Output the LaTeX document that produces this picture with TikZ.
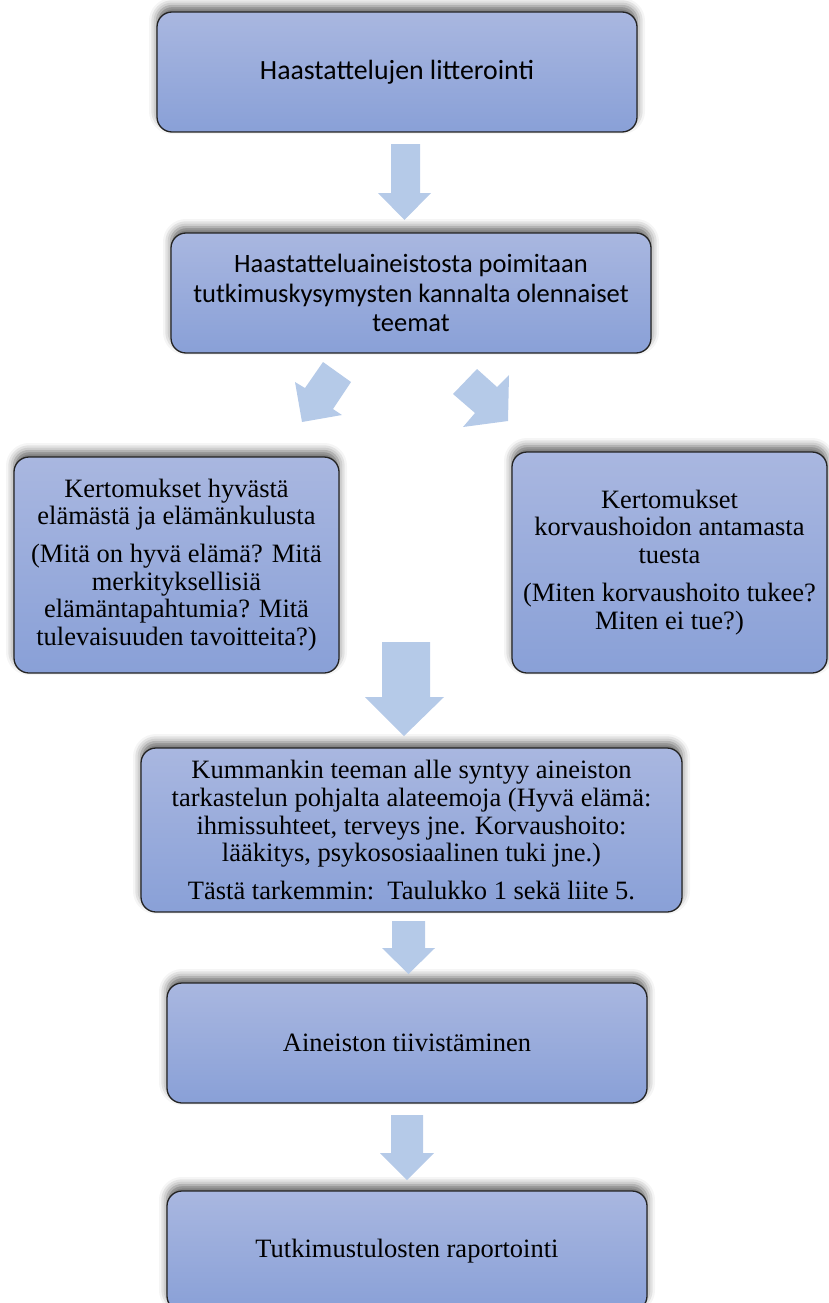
\documentclass[tikz,border=0pt]{standalone}
\usepackage{fontspec}
\setmainfont{Liberation Serif}
\newfontfamily\calibrifont{Carlito}
\usetikzlibrary{shadows.blur}
\definecolor{boxtop}{RGB}{169,183,224}
\definecolor{boxbot}{RGB}{137,160,215}
\definecolor{arrowfill}{RGB}{181,202,232}
\definecolor{boxline}{RGB}{35,35,35}
\begin{document}
\begin{tikzpicture}[x=1pt,y=-1pt,
  stage/.style={draw=boxline, line width=1.3pt, rounded corners=15pt,
    top color=boxtop, bottom color=boxbot, inner sep=0pt, align=center, text=black,
    blur shadow={shadow xshift=0pt, shadow yshift=6pt, shadow blur radius=8pt, shadow opacity=60}},
  sanstext/.style={font=\calibrifont\fontsize{26.5}{29.5}\selectfont},
  seriftext/.style={font=\fontsize{26.5}{27.6}\selectfont},
  blockarrow/.style={fill=arrowfill, draw=none}]
\useasboundingbox (0,0) rectangle (828,1303);

% boxes
\node[stage, font=\calibrifont\fontsize{27.8}{30}\selectfont, minimum width=480pt, minimum height=120pt] (b1) at (397,72)
  {Haastattelujen litterointi};
\node[stage, sanstext, minimum width=480pt, minimum height=120pt] (b2) at (411,293)
  {Haastatteluaineistosta poimitaan\\tutkimuskysymysten kannalta olennaiset\\teemat};
\node[stage, seriftext, minimum width=325pt, minimum height=216pt] (b3) at (176.5,565)
  {Kertomukset hyvästä\\elämästä ja elämänkulusta\\[10pt](Mitä on hyvä elämä? Mitä\\merkityksellisiä\\elämäntapahtumia? Mitä\\tulevaisuuden tavoitteita?)};
\node[stage, seriftext, minimum width=315pt, minimum height=221pt] (b4) at (669.5,562.5)
  {Kertomukset\\korvaushoidon antamasta\\tuesta\\[11pt](Miten korvaushoito tukee?\\Miten ei tue?)};
\node[stage, seriftext, minimum width=541pt, minimum height=164pt] (b5) at (411.5,830)
  {Kummankin teeman alle syntyy aineiston\\tarkastelun pohjalta alateemoja (Hyvä elämä:\\ihmissuhteet, terveys jne. Korvaushoito:\\lääkitys, psykososiaalinen tuki jne.)\\[10pt]Tästä tarkemmin:\ \ Taulukko 1 sekä liite 5.};
\node[stage, seriftext, minimum width=480pt, minimum height=120pt] (b6) at (407,1043)
  {Aineiston tiivistäminen};
\node[stage, seriftext, minimum width=480pt, minimum height=120pt] (b7) at (407,1251)
  {Tutkimustulosten raportointi};

% block arrows
\fill[blockarrow] (391,144) -- (420,144) -- (420,193) -- (431,193) -- (404.5,220) -- (378,193) -- (391,193) -- cycle;
\fill[blockarrow] (323,362) -- (351,382) -- (333,409) -- (342,415) -- (302,422) -- (295,382) -- (305,388) -- cycle;
\fill[blockarrow] (477,369) -- (497,387) -- (509,375) -- (508,421) -- (463,427) -- (475,413) -- (453,394) -- cycle;
\fill[blockarrow] (382,642) -- (430,642) -- (430,697) -- (444,697) -- (404,736) -- (365,697) -- (382,697) -- cycle;
\fill[blockarrow] (392,921) -- (425,921) -- (425,948) -- (435,948) -- (408.5,974) -- (382,948) -- (392,948) -- cycle;
\fill[blockarrow] (391,1115) -- (423,1115) -- (423,1153) -- (434,1153) -- (407,1180) -- (380,1153) -- (391,1153) -- cycle;
\end{tikzpicture}
\end{document}
